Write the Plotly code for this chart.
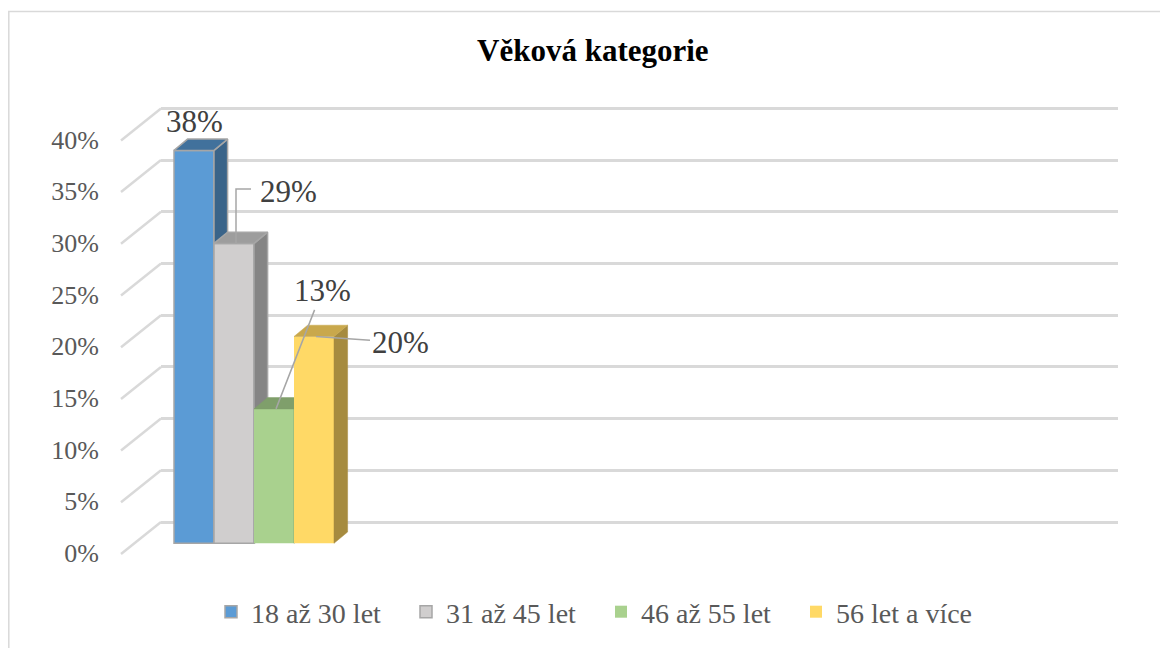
import plotly.graph_objects as go

# ---------------- data ----------------
categories = ["18 až 30 let", "31 až 45 let", "46 až 55 let", "56 let a více"]
values = [0.38, 0.29, 0.13, 0.20]
value_labels = ["38%", "29%", "13%", "20%"]
tick_values = [0.0, 0.05, 0.10, 0.15, 0.20, 0.25, 0.30, 0.35, 0.40]
tick_labels = ["0%", "5%", "10%", "15%", "20%", "25%", "30%", "35%", "40%"]
title_text = "Věková kategorie"

# ---------------- styles ----------------
front_colors = ["#5b9bd5", "#d0cece", "#a9d18e", "#ffd966"]
top_colors = ["#41719c", "#9d9d9d", "#7f9f6b", "#c9a84c"]
side_colors = ["#3a6489", "#858585", "#708c5e", "#a68b3f"]
edge_widths = [1.5, 1.5, 0, 0]
edge_color = "#a6a6a6"
grid_color = "#d9d9d9"
text_color = "#595959"
label_color = "#404040"
FONT = "Times New Roman, Liberation Serif, serif"

W, H = 1168, 648
PAGE_OFF = 8.0        # default page body margin of the html page
YPX = 1034.0          # pixels per 1.0 (=100 %)
XPX = 40.0            # pixels per bar width
BACK_ZERO = 522.0     # back wall 0 % line (pixel y)
BAR_ZERO = 543.3      # bar base (pixel y)
LABEL_ZERO = 553.0    # tick label 0 % (pixel y)
DX = 13.6 / XPX       # depth offset of 3-D faces (x units)
DY = 11.3 / YPX       # depth offset of 3-D faces (y units)


def pyp(p):
    return 1 - (p - PAGE_OFF) / H


def pxp(p):
    return (p - PAGE_OFF) / W


def ydomain(zero_px, r0, r1):
    return [pyp(zero_px - r0 * YPX), pyp(zero_px - r1 * YPX)]


back_range = [-0.005, 0.405]
bar_range = [-0.004, 0.404]
x_left_px, x_right_px = 172.0, 1118.0
bar_xrange = [-0.55, -0.55 + (x_right_px - x_left_px) / XPX]

fig = go.Figure()

# back wall axes (gridlines) – dummy invisible trace
fig.add_trace(go.Scatter(x=[0.5], y=[0.2], mode="markers", marker=dict(opacity=0),
                         showlegend=False, hoverinfo="skip", xaxis="x", yaxis="y"))
# tick label axis – dummy invisible trace
fig.add_trace(go.Scatter(x=[0.5], y=[0.2], mode="markers", marker=dict(opacity=0),
                         showlegend=False, hoverinfo="skip", xaxis="x", yaxis="y7"))

for k, (cat, v) in enumerate(zip(categories, values)):
    xa = "x%d" % (k + 2)
    ya = "y%d" % (k + 2)
    lw = edge_widths[k]
    fig.add_trace(go.Bar(
        x=[k], y=[v], width=1, name=cat, xaxis=xa, yaxis=ya,
        marker=dict(color=front_colors[k], line=dict(color=edge_color, width=lw)),
        hoverinfo="skip", showlegend=True,
    ))
    # side face
    fig.add_trace(go.Scatter(
        x=[k + 0.5, k + 0.5 + DX, k + 0.5 + DX, k + 0.5, k + 0.5],
        y=[0, DY, v + DY, v, 0],
        mode="lines", fill="toself", fillcolor=side_colors[k],
        line=dict(color=edge_color if lw else side_colors[k], width=lw if lw else 0.5),
        showlegend=False, hoverinfo="skip", xaxis=xa, yaxis=ya,
    ))
    # top face
    fig.add_trace(go.Scatter(
        x=[k - 0.5, k - 0.5 + DX, k + 0.5 + DX, k + 0.5, k - 0.5],
        y=[v, v + DY, v + DY, v, v],
        mode="lines", fill="toself", fillcolor=top_colors[k],
        line=dict(color=edge_color if lw else top_colors[k], width=lw if lw else 0.5),
        showlegend=False, hoverinfo="skip", xaxis=xa, yaxis=ya,
    ))

# elbow leader for second label
fig.add_trace(go.Scatter(
    x=[1.05, 1.05, 1.425], y=[values[1], values[1] + 0.0527, values[1] + 0.0527],
    mode="lines", line=dict(color=edge_color, width=1.5),
    showlegend=False, hoverinfo="skip", xaxis="x3", yaxis="y3",
))

layout = dict(
    width=W, height=H, autosize=False,
    margin=dict(l=0, r=0, t=0, b=0, autoexpand=False),
    paper_bgcolor="white", plot_bgcolor="rgba(0,0,0,0)",
    barmode="overlay",
    font=dict(family=FONT, color=text_color, size=26),
    showlegend=True,
    legend=dict(orientation="h", xref="container", yref="container",
                x=pxp(601), y=pyp(612), xanchor="center", yanchor="middle",
                font=dict(family=FONT, size=28, color=text_color),
                entrywidth=150, entrywidthmode="pixels", traceorder="normal",
                bgcolor="rgba(0,0,0,0)"),
    xaxis=dict(domain=[pxp(161), pxp(1118)], range=[0, 1], visible=False),
    yaxis=dict(domain=ydomain(BACK_ZERO, *back_range), range=back_range,
               tickvals=tick_values, showticklabels=False, showgrid=True,
               gridcolor=grid_color, gridwidth=2.5, zeroline=False, showline=False, ticks=""),
    yaxis7=dict(domain=ydomain(LABEL_ZERO, 0, 0.4), range=[0, 0.4], anchor="free",
                position=pxp(99), tickvals=tick_values, ticktext=tick_labels,
                showgrid=False, zeroline=False, showline=False, ticks="",
                tickfont=dict(family=FONT, size=26, color=text_color)),
)
for k in range(len(values)):
    xn = "xaxis%d" % (k + 2)
    yn = "yaxis%d" % (k + 2)
    xd = dict(range=bar_xrange, visible=False, anchor="y%d" % (k + 2))
    yd = dict(range=bar_range, visible=False, anchor="x%d" % (k + 2))
    if k == 0:
        xd["domain"] = [pxp(x_left_px), pxp(x_right_px)]
        yd["domain"] = ydomain(BAR_ZERO, *bar_range)
    else:
        xd["overlaying"] = "x2"
        yd["overlaying"] = "y2"
    layout[xn] = xd
    layout[yn] = yd
fig.update_layout(**layout)

# diagonal side-wall lines and chart border
shapes = []
for v in tick_values:
    shapes.append(dict(type="line", xref="paper", yref="paper",
                       x0=pxp(121), y0=pyp(554 - v * YPX),
                       x1=pxp(161), y1=pyp(BACK_ZERO - v * YPX),
                       line=dict(color=grid_color, width=2.5), layer="below"))
shapes.append(dict(type="rect", xref="paper", yref="paper",
                   x0=0.8 / W, x1=1.2, y0=-0.2, y1=pyp(11.5),
                   line=dict(color=grid_color, width=1.5), layer="below"))
fig.update_layout(shapes=shapes)

# title + data labels
lab_font = dict(family=FONT, size=31, color=label_color)
ann = [
    dict(x=0, y=values[0], text=value_labels[0], showarrow=False, xshift=0.5, yshift=29),
    dict(x=1, y=values[1], text=value_labels[1], showarrow=False, xshift=54, yshift=52),
    dict(x=2.05, y=values[2], text=value_labels[2], showarrow=True, ax=46, ay=-118),
    dict(x=3.05, y=values[3], text=value_labels[3], showarrow=True, ax=84, ay=6),
]
for a in ann:
    a.update(xref="x2", yref="y2", font=lab_font, arrowhead=0, arrowwidth=1.5,
             arrowcolor=edge_color, standoff=0, yanchor="middle")
ann.append(dict(text="<b>" + title_text + "</b>", xref="paper", yref="paper",
                x=pxp(593), y=pyp(51), xanchor="center", yanchor="middle", showarrow=False,
                font=dict(family=FONT, size=31, color="black")))
fig.update_layout(annotations=ann)

fig.write_html("out.html")
